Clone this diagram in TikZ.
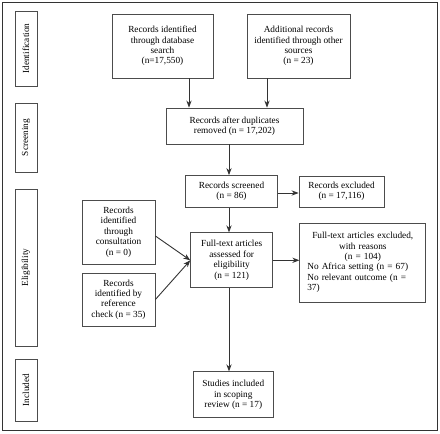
\documentclass[tikz,border=0pt]{standalone}
\usepackage{fontspec}
\setmainfont{Liberation Serif}
\usepackage{tikz}
\usetikzlibrary{arrows.meta,calc}
\tikzset{
>=Stealth,
flow box/.style={draw=black!70,line width=0.8pt,inner sep=0pt,align=center,
  font=\fontsize{9.3}{10.4}\selectfont},
phase box/.style={flow box,rotate=90,minimum height=22pt},
freccia/.style={->,line width=0.9pt,draw=black!80}}

\begin{document}
\begin{tikzpicture}[x=1pt,y=-1pt]
\useasboundingbox (0,0) rectangle (440,434);
\draw[black!80,line width=1.8pt] (2.5,2.5) rectangle (437.5,430.5);

% phases
\node[phase box,minimum width=75pt] (id) at (26,48.5) {Identification};
\node[phase box,minimum width=69pt] (scr) at (26,137.5) {Screening};
\node[phase box,minimum width=157pt] (elig) at (26,267.5) {Eligibility};
\node[phase box,minimum width=62pt] (incl) at (26,390) {Included};

% boxes
\node[flow box,minimum width=101pt,minimum height=64pt] (db) at (162.5,46)
  {Records identified\\ through database\\ search\\ (n=17,550)};
\node[flow box,minimum width=103pt,minimum height=64pt] (other) at (298.5,46)
  {Additional records\\ identified through other\\ sources\\ (n = 23)};
\node[flow box,minimum width=137pt,minimum height=36pt] (dup) at (234.5,126)
  {Records after duplicates\\ removed (n = 17,202)};
\node[flow box,minimum width=92pt,minimum height=32pt] (screened) at (231.5,191.5)
  {Records screened\\ (n = 86)};
\node[flow box,minimum width=85pt,minimum height=31pt] (excl) at (341.5,191.5)
  {Records excluded\\ (n = 17,116)};
\node[flow box,minimum width=73pt,minimum height=64pt] (consult) at (118.5,232)
  {Records\\ identified\\ through\\ consultation\\ (n = 0)};
\node[flow box,minimum width=73pt,minimum height=53pt] (refcheck) at (118.5,299.5)
  {Records\\ identified by\\ reference\\ check (n = 35)};
\node[flow box,minimum width=82pt,minimum height=55pt] (full) at (231.7,260.3)
  {Full-text articles\\ assessed for\\ eligibility\\ (n = 121)};
\node[flow box,align=left,text width=111pt,minimum width=126pt,minimum height=79pt] (fullexcl) at (362.8,262.5)
  {\centering Full-text articles excluded,\\ with reasons\\ (n = 104)\par
   \raggedright No Africa setting (n = 67)\\ No relevant outcome (n =\\ 37)\par\vspace{5pt}};
\node[flow box,minimum width=80pt,minimum height=46pt] (incl box) at (233.3,394.8)
  {Studies included\\ in scoping\\ review (n = 17)};

\coordinate (spine) at (229,0);

\draw[freccia] ([xshift=26.5pt]db.south) -- ([xshift=26.5pt]db.south |- dup.north);
\draw[freccia] ([xshift=-31.5pt]other.south) -- ([xshift=-31.5pt]other.south |- dup.north);
\draw[freccia] (spine |- dup.south) -- (spine |- screened.north);
\draw[freccia] (spine |- screened.south) -- (spine |- full.north);
\draw[freccia] (spine |- full.south) -- (spine |- incl box.north);
\draw[freccia] ([yshift=-1.5pt]screened.east) -- ([yshift=-1.5pt]screened.east -| excl.west);
\draw[freccia] (full.east) -- (full.east -| fullexcl.west);
\draw[freccia] ([yshift=-4pt]consult.east) -- (full.west);
\draw[freccia] (refcheck.east) -- (full.west);

\end{tikzpicture}
\end{document}
